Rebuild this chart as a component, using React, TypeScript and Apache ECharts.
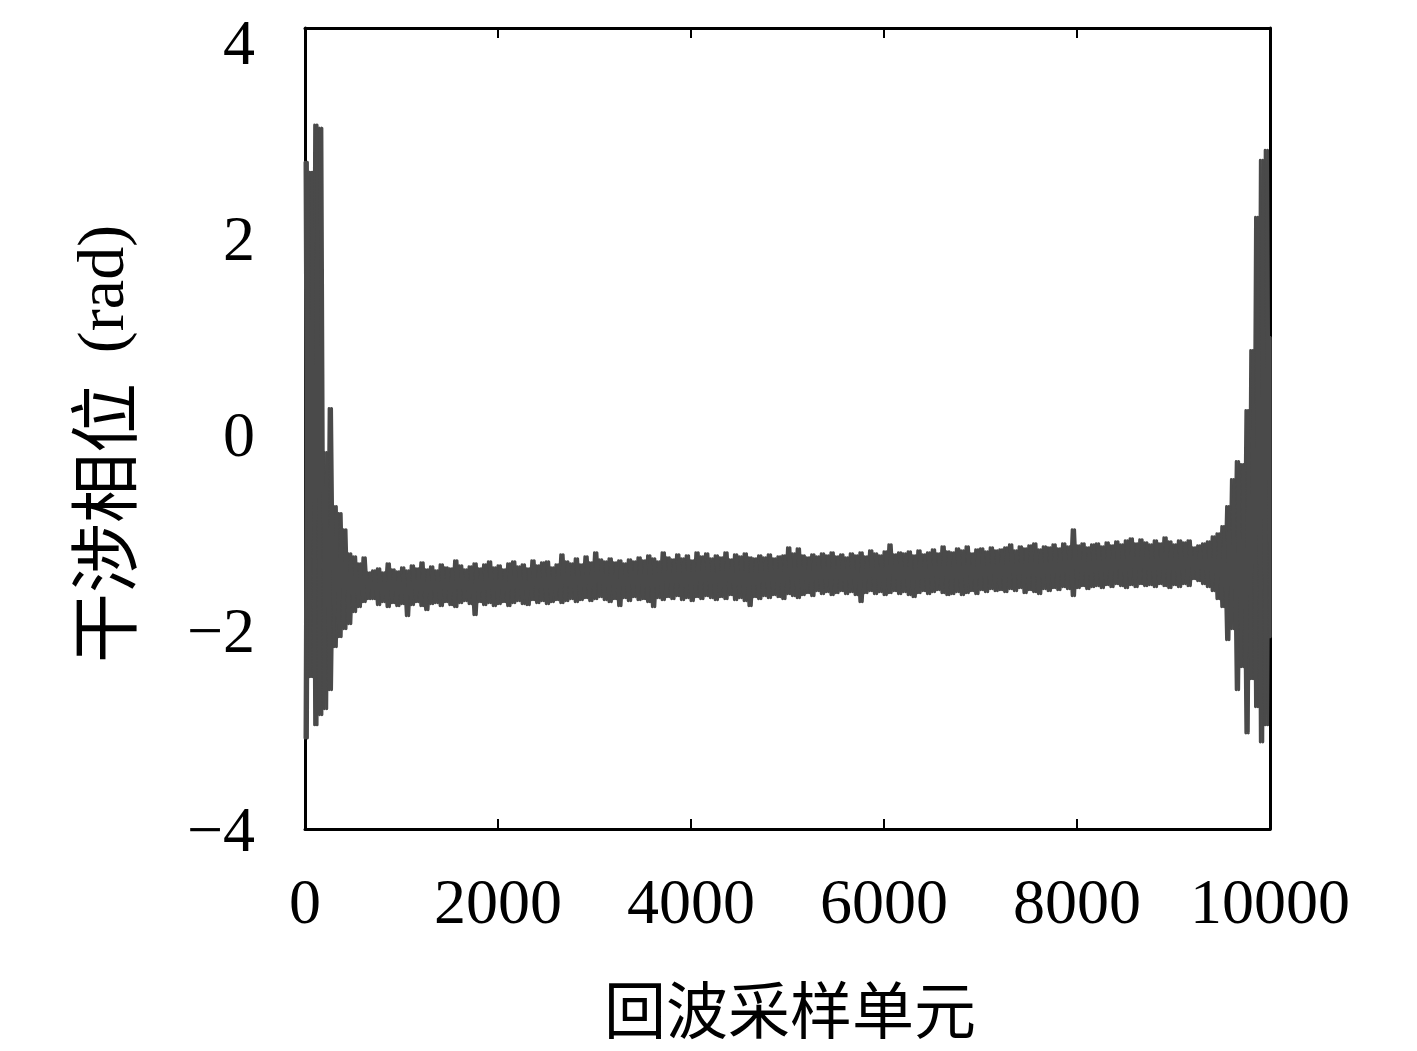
import React, { useEffect, useRef } from 'react';
import * as echarts from 'echarts';

// x-axis tick values and y-axis tick values
const xTicks = [0, 2000, 4000, 6000, 8000, 10000];
const yTicks = [-4, -2, 0, 2, 4];

// samples are read every 50 units: local upper peak and local trough
const SAMPLE_STEP = 50;

const hiValues = [
  2.66, 2.56, 3.03, 3.0, -0.24, 0.2, -0.78, -0.85, -1.01, -1.25,
  -1.28, -1.35, -1.29, -1.44,
  -1.42, -1.4, -1.44, -1.35, -1.41, -1.43, -1.39, -1.42, -1.37, -1.4,
  -1.34, -1.41, -1.38, -1.42, -1.36, -1.39, -1.4, -1.32, -1.37, -1.41,
  -1.38, -1.35, -1.4, -1.36, -1.33, -1.39, -1.37, -1.41, -1.35, -1.33,
  -1.38, -1.36, -1.4, -1.32, -1.37, -1.34, -1.33, -1.39, -1.36, -1.26,
  -1.33, -1.35, -1.3, -1.36, -1.28, -1.34, -1.24, -1.31, -1.33, -1.3,
  -1.34, -1.32, -1.35, -1.31, -1.33, -1.29, -1.32, -1.27, -1.3, -1.33,
  -1.24, -1.29, -1.31, -1.26, -1.3, -1.27, -1.32, -1.24, -1.28, -1.25,
  -1.3, -1.27, -1.29, -1.24, -1.31, -1.26, -1.28, -1.25, -1.29, -1.3,
  -1.27, -1.29, -1.26, -1.3, -1.28, -1.27, -1.19, -1.25, -1.2, -1.27,
  -1.29, -1.26, -1.28, -1.25, -1.27, -1.24, -1.28, -1.26, -1.29, -1.25,
  -1.27, -1.24, -1.28, -1.22, -1.25, -1.27, -1.23, -1.16, -1.26, -1.24,
  -1.25, -1.23, -1.27, -1.22, -1.26, -1.24, -1.21, -1.25, -1.18, -1.23,
  -1.24, -1.2, -1.22, -1.18, -1.25, -1.21, -1.2, -1.23, -1.19, -1.22,
  -1.21, -1.19, -1.16, -1.22, -1.18, -1.2, -1.17, -1.15, -1.21, -1.18,
  -1.19, -1.16, -1.2, -1.15, -1.18, -1.01, -1.17, -1.15, -1.19, -1.16,
  -1.15, -1.18, -1.14, -1.17, -1.13, -1.16, -1.12, -1.1, -1.15, -1.11,
  -1.14, -1.16, -1.12, -1.15, -1.09, -1.13, -1.16, -1.12, -1.14, -1.12,
  -1.19, -1.17, -1.15, -1.13, -1.08, -1.05, -0.98, -0.78, -0.51, -0.33,
  -0.36, 0.18, 0.78, 2.11, 2.68, 2.78, 0.91,
];

const loValues = [
  -3.09, -2.48, -2.96, -2.86, -2.8, -2.61, -2.18, -2.08, -2.0, -1.95,
  -1.83, -1.78, -1.73, -1.7,
  -1.7, -1.76, -1.73, -1.78, -1.74, -1.77, -1.75, -1.87, -1.76, -1.73,
  -1.77, -1.81, -1.75, -1.74, -1.77, -1.73, -1.76, -1.78, -1.74, -1.72,
  -1.75, -1.86, -1.73, -1.76, -1.74, -1.77, -1.75, -1.73, -1.77, -1.74,
  -1.72, -1.75, -1.76, -1.71, -1.74, -1.72, -1.75, -1.73, -1.71, -1.74,
  -1.72, -1.7, -1.73, -1.71, -1.69, -1.72, -1.7, -1.68, -1.71, -1.73,
  -1.7, -1.77, -1.69, -1.72, -1.68, -1.71, -1.7, -1.73, -1.78, -1.69,
  -1.71, -1.68, -1.7, -1.67, -1.71, -1.69, -1.72, -1.68, -1.7, -1.67,
  -1.69, -1.71, -1.68, -1.7, -1.66, -1.71, -1.69, -1.72, -1.77, -1.68,
  -1.7, -1.67, -1.69, -1.66, -1.68, -1.7, -1.65, -1.67, -1.69, -1.66,
  -1.64, -1.67, -1.62, -1.65, -1.63, -1.66, -1.64, -1.62, -1.65, -1.63,
  -1.66, -1.73, -1.64, -1.62, -1.65, -1.63, -1.66, -1.64, -1.62, -1.65,
  -1.63, -1.66, -1.68, -1.64, -1.62, -1.65, -1.63, -1.61, -1.64, -1.66,
  -1.65, -1.63, -1.66, -1.64, -1.62, -1.65, -1.61, -1.63, -1.6, -1.62,
  -1.61, -1.63, -1.6, -1.62, -1.59, -1.64, -1.61, -1.63, -1.65, -1.6,
  -1.62, -1.59, -1.61, -1.58, -1.6, -1.67, -1.59, -1.57, -1.6, -1.58,
  -1.57, -1.59, -1.56, -1.58, -1.55, -1.57, -1.59, -1.56, -1.58, -1.55,
  -1.57, -1.56, -1.58, -1.55, -1.57, -1.59, -1.56, -1.58, -1.55, -1.57,
  -1.5, -1.52, -1.55, -1.58, -1.62, -1.7, -1.78, -2.11, -2.0, -2.61,
  -2.38, -3.04, -2.5, -2.78, -3.13, -2.96, -2.08,
];

const xName = '回波采样单元';
const yNameCn = '干涉相位';
const yNameUnit = '(rad)';

const SERIF = '"Liberation Serif", "DejaVu Serif", serif';
const CJK = '"Noto Sans CJK SC", sans-serif';
const LINE_COLOR = '#4a4a4a';

export default function App() {
  const ref = useRef<HTMLDivElement>(null);
  useEffect(() => {
    const chart = echarts.init(ref.current!, null, { renderer: 'svg' });
    const xMax = xTicks[xTicks.length - 1];
    // peak then trough, and trough then peak (the two phases fill the dense band)
    const dataA: [number, number][] = [];
    const dataB: [number, number][] = [];
    hiValues.forEach((h, k) => {
      const x = k * SAMPLE_STEP;
      const x2 = Math.min(x + SAMPLE_STEP / 2, xMax);
      dataA.push([x, h]);
      dataA.push([x2, loValues[k]]);
      dataB.push([x, loValues[k]]);
      dataB.push([x2, h]);
    });

    const yOffsets: Record<string, number> = { '4': 14, '2': 10, '0': 6, '-2': 2, '-4': 0 };
    const rich: Record<string, any> = {};
    yTicks.forEach((v) => {
      const key = 'o' + String(v).replace('-', 'm');
      rich[key] = {
        fontFamily: SERIF,
        fontSize: 64,
        color: '#000',
        padding: [yOffsets[String(v)] * 2, 0, 0, 0],
      };
    });

    const axisCommon = {
      type: 'value' as const,
      axisLine: { show: true, onZero: false, lineStyle: { color: '#000', width: 3 } },
      axisTick: { show: true, inside: true, length: 10, lineStyle: { color: '#000', width: 2 } },
      splitLine: { show: false },
    };

    const lineSeries = (data: [number, number][]) => ({
      type: 'line',
      xAxisIndex: 0,
      yAxisIndex: 0,
      data,
      showSymbol: false,
      symbol: 'none',
      clip: true,
      silent: true,
      lineStyle: { color: LINE_COLOR, width: 3, join: 'round', cap: 'round' },
      z: 3,
    });

    chart.setOption({
      animation: false,
      backgroundColor: '#fff',
      grid: { left: 305, right: 147, top: 28, bottom: 222 },
      xAxis: [
        {
          ...axisCommon,
          position: 'bottom',
          min: 0,
          max: xMax,
          interval: 2000,
          axisLabel: {
            show: true,
            margin: 40,
            fontFamily: SERIF,
            fontSize: 64,
            color: '#000',
            formatter: (v: number) => String(v),
          },
        },
        {
          ...axisCommon,
          position: 'top',
          min: 0,
          max: xMax,
          interval: 2000,
          axisLabel: { show: false },
        },
      ],
      yAxis: [
        {
          ...axisCommon,
          position: 'left',
          min: yTicks[0],
          max: yTicks[yTicks.length - 1],
          interval: 2,
          axisLabel: {
            show: true,
            margin: 50,
            formatter: (v: number) => {
              const key = 'o' + String(v).replace('-', 'm');
              const text = v < 0 ? '\u2212' + Math.abs(v) : String(v);
              return `{${key}|${text}}`;
            },
            rich,
          },
        },
        {
          ...axisCommon,
          position: 'right',
          min: yTicks[0],
          max: yTicks[yTicks.length - 1],
          interval: 2,
          axisLabel: { show: false },
        },
      ],
      series: [lineSeries(dataA), lineSeries(dataB)],
      graphic: [
        {
          type: 'text',
          x: 790,
          y: 1007,
          style: {
            text: xName,
            fontFamily: CJK,
            fontSize: 62,
            lineHeight: 62,
            fill: '#000',
            align: 'center',
            verticalAlign: 'middle',
          },
        },
        {
          type: 'text',
          x: 100,
          y: 444,
          rotation: Math.PI / 2,
          style: {
            text: `{a|${yNameCn}}{b|${yNameUnit}}`,
            fill: '#000',
            align: 'center',
            verticalAlign: 'middle',
            rich: {
              a: { fontFamily: CJK, fontSize: 70, lineHeight: 72, fill: '#000' },
              b: { fontFamily: SERIF, fontSize: 66, lineHeight: 72, fill: '#000', padding: [0, 0, 0, 30] },
            },
          },
        },
      ],
    });
    return () => chart.dispose();
  }, []);
  return (
    <div
      ref={ref}
      style={{ position: 'fixed', left: 0, top: 0, width: 1417, height: 1051, background: '#fff' }}
    />
  );
}
